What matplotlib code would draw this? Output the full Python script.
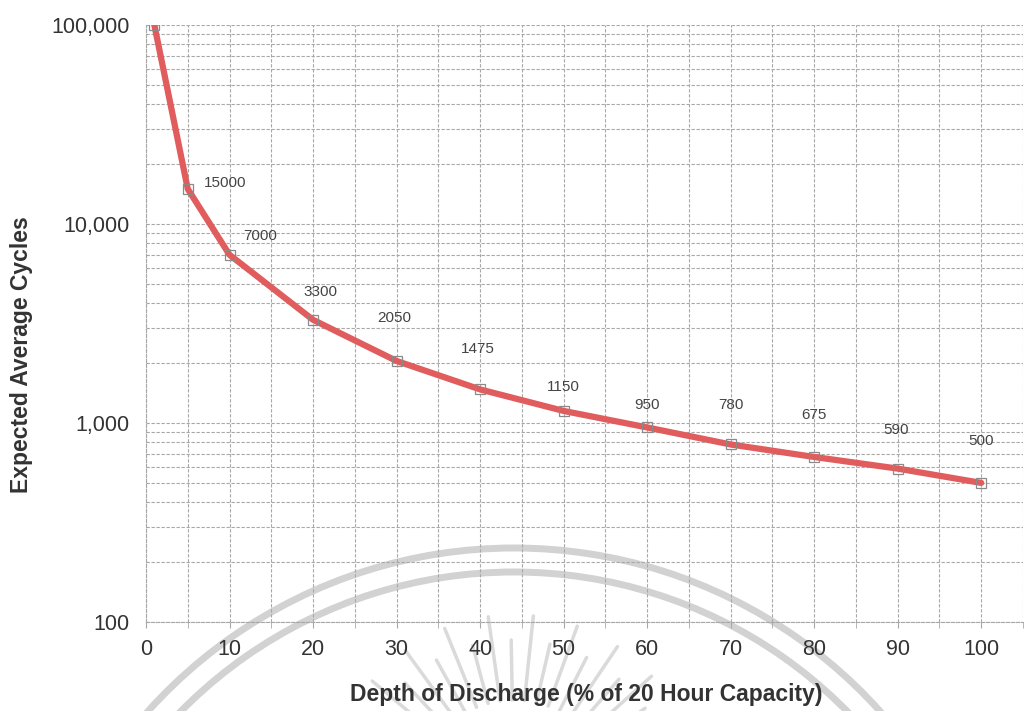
"""Cycle life vs depth of discharge chart (log scale)."""

import matplotlib

matplotlib.use("Agg")

import matplotlib.pyplot as plt
import numpy as np
from matplotlib.patches import Arc
from matplotlib.ticker import FixedLocator, FuncFormatter, MultipleLocator

DEPTH = [1, 5, 10, 20, 30, 40, 50, 60, 70, 80, 90, 100]
CYCLES = [100000, 15000, 7000, 3300, 2050, 1475, 1150, 950, 780, 675, 590, 500]
POINT_LABELS = ["", "15000", "7000", "3300", "2050", "1475", "1150",
                "950", "780", "675", "590", "500"]
Y_TICKS = [100, 1000, 10000, 100000]

# label offsets from each point, in pixels (dx, dy)
LABEL_OFFSETS = [(0, 0), (37, 6), (31, 19), (7, 28), (-2, 43), (-2, 40),
                 (0, 24), (0, 22), (0, 39), (0, 42), (-2, 39), (0, 42)]

plt.rcParams["font.family"] = ["Liberation Sans", "DejaVu Sans"]

W, H = 1024, 711
fig = plt.figure(figsize=(W / 100, H / 100), dpi=100)

# faint watermark behind the chart
wm = fig.add_axes([0, 0, 1, 1], zorder=0)
wm.set_xlim(0, W)
wm.set_ylim(0, H)
wm.axis("off")
cx, cy = 514, H - 1040
for r in (492, 468):
    wm.add_patch(Arc((cx, cy), 2 * r, 2 * r, theta1=20, theta2=160,
                     color="#d2d2d2", lw=5))
rc_x, rc_y = 514, H - 800
for ang in np.arange(14, 167, 7):
    a = np.deg2rad(ang)
    r0, r1 = 100, 185 if int(ang) % 2 == 0 else 160
    wm.plot([rc_x + r0 * np.cos(a), rc_x + r1 * np.cos(a)],
            [rc_y + r0 * np.sin(a), rc_y + r1 * np.sin(a)],
            color="#dadada", lw=2.5, solid_capstyle="round")

ax = fig.add_axes([146 / W, (H - 622) / H, 877 / W, 597 / H], zorder=1)
ax.patch.set_alpha(0)
ax.set_yscale("log")
ax.set_xlim(0, 105)
ax.set_ylim(100, 100000)

ax.xaxis.set_major_locator(FixedLocator(range(0, 101, 10)))
ax.xaxis.set_minor_locator(MultipleLocator(5))
ax.yaxis.set_major_locator(FixedLocator(Y_TICKS))
ax.yaxis.set_major_formatter(FuncFormatter(lambda v, _: f"{int(v):,}"))

grid_kw = dict(color="#a8a8a8", linestyle=(0, (3, 1.5)), linewidth=0.8)
ax.grid(True, which="both", axis="both", **grid_kw)
for side in ("top", "right"):
    ax.spines[side].set_visible(False)
for side in ("left", "bottom"):
    ax.spines[side].set(color="#a8a8a8", linestyle=(0, (3, 1.5)), linewidth=0.8)

ax.tick_params(axis="both", which="both", colors="#a8a8a8", labelcolor="#333333",
               labelsize=15.5)
ax.tick_params(axis="x", which="major", length=4, pad=8)
ax.tick_params(axis="x", which="minor", length=4)
ax.tick_params(axis="y", which="major", length=0, pad=12)
ax.tick_params(axis="y", which="minor", length=0)

ax.plot(DEPTH, CYCLES, color="#e15c5c", lw=4.5, zorder=3,
        solid_capstyle="round", solid_joinstyle="round")
ax.plot(DEPTH, CYCLES, linestyle="none", marker="s", markersize=7,
        markerfacecolor="none", markeredgecolor="#8a8a8a", markeredgewidth=0.9,
        zorder=4)

for x, y, text, (dx, dy) in zip(DEPTH, CYCLES, POINT_LABELS, LABEL_OFFSETS):
    if text:
        ax.annotate(text, (x, y), xytext=(dx, dy), textcoords="offset pixels",
                    ha="center", va="center", fontsize=11, color="#444444")

fig.text(22 / W, 1 - 355 / H, "Expected Average Cycles", rotation=90,
         ha="center", va="center", fontsize=16.5, fontweight="bold", color="#333333")
fig.text(586 / W, 1 - 695 / H, "Depth of Discharge (% of 20 Hour Capacity)",
         ha="center", va="center", fontsize=16.5, fontweight="bold", color="#333333")

fig.savefig("out.png", dpi=100)
